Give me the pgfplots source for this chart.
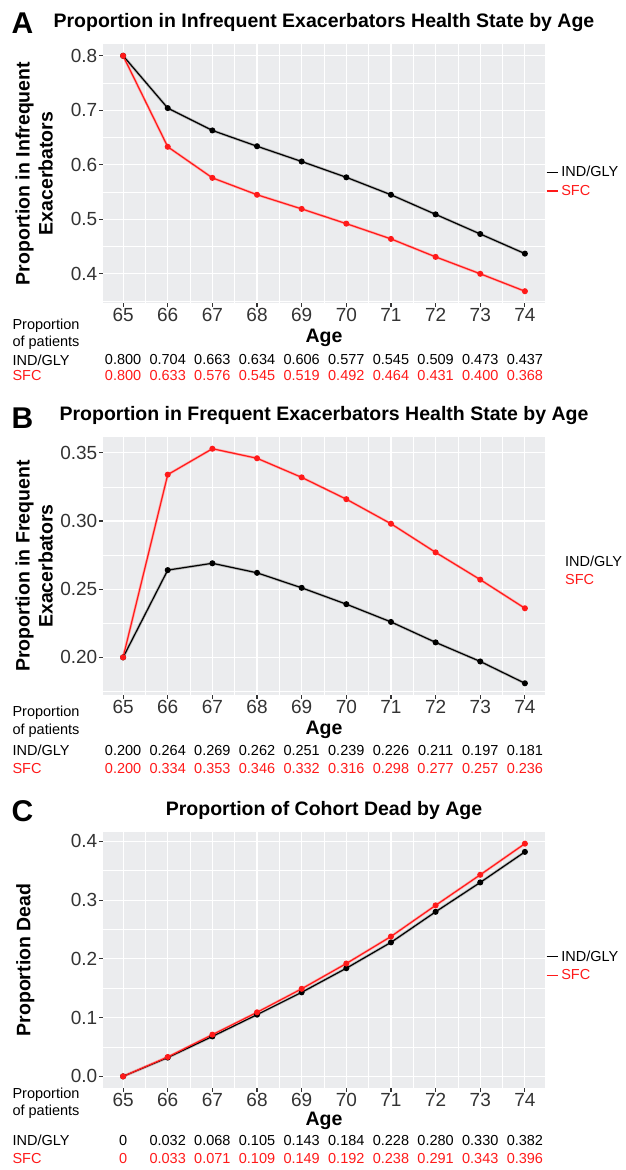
\documentclass[border=0pt]{standalone}
\usepackage{pgfplots}
\usepackage{pgfplotstable}
\pgfplotsset{compat=1.18}
\usepackage{fontspec}
\setmainfont{Liberation Sans}
\definecolor{panelbg}{HTML}{EBECEE}
\definecolor{tickgrey}{HTML}{333333}
\definecolor{ggred}{HTML}{FF1A1A}
\newcommand{\fs}[1]{\fontsize{#1}{#1}\selectfont}

\pgfplotstableread{
age ind sfc
65 0.800 0.800
66 0.704 0.633
67 0.663 0.576
68 0.634 0.545
69 0.606 0.519
70 0.577 0.492
71 0.545 0.464
72 0.509 0.431
73 0.473 0.400
74 0.437 0.368
}\tabA
\pgfplotstableread{
age ind sfc
65 0.200 0.200
66 0.264 0.334
67 0.269 0.353
68 0.262 0.346
69 0.251 0.332
70 0.239 0.316
71 0.226 0.298
72 0.211 0.277
73 0.197 0.257
74 0.181 0.236
}\tabB
\pgfplotstableread{
age ind sfc
65 0 0
66 0.032 0.033
67 0.068 0.071
68 0.105 0.109
69 0.143 0.149
70 0.184 0.192
71 0.228 0.238
72 0.280 0.291
73 0.330 0.343
74 0.382 0.396
}\tabC

\pgfplotsset{
  ggbase/.style={
    scale only axis, width=442pt,
    xmin=64.55, xmax=74.45,
    xtick={65,...,74}, xticklabels={65,66,67,68,69,70,71,72,73,74},
    minor xtick={65.5,66.5,67.5,68.5,69.5,70.5,71.5,72.5,73.5},
    grid=both,
    major grid style={white, line width=1.1pt},
    minor grid style={white, line width=0.55pt},
    axis background/.style={fill=panelbg},
    axis line style={draw=none},
    tick align=outside, tick pos=left,
    major tick length=4pt, minor tick length=0pt,
    major tick style={tickgrey, line width=1.1pt},
    ticklabel style={font=\fs{19}, text=tickgrey},
    xticklabel style={inner sep=1.5pt},
    yticklabel style={inner sep=1.5pt},
    clip=false,
    title style={font=\bfseries\fs{19.5}, anchor=base, at={(0.5,1)}, yshift=11pt},
    xlabel style={font=\bfseries\fs{19.5}, at={(axis description cs:0.5,0)}, anchor=center},
    ylabel style={font=\bfseries\fontsize{19.5}{23}\selectfont, align=center, anchor=center},
    legend style={draw=none, fill=none, font=\fs{14.5}, at={(1,0.5)}, anchor=west, inner sep=0pt, row sep=3pt,
      nodes={inner xsep=3pt}},
    legend cell align=left,
    legend image code/.code={\draw[#1, mark=none, line width=1.1pt] (0pt,0pt) -- (11pt,0pt);},
  },
  indline/.style={black, line width=1.2pt, mark=*, mark size=2.4pt},
  sfcline/.style={ggred, line width=1.2pt, mark=*, mark size=2.4pt},
  shadowind/.style={forget plot, gray!55, line width=2.8pt, mark=none},
  shadowsfc/.style={forget plot, ggred!35, line width=2.6pt, mark=none},
  tabrow/.style 2 args={forget plot, draw=none, mark=none, nodes near coords, point meta=explicit symbolic,
     every node near coord/.style={anchor=center, font=\fs{14.5}, text=#1, yshift=#2}},
}

\begin{document}
\begin{tikzpicture}[x=1pt,y=1pt]
\useasboundingbox (0pt,0pt) rectangle (625pt,-1170pt);

% ---------------- Panel A
\node[font=\bfseries\fs{30}, anchor=base west] at (8pt,-33pt) {A};
\begin{axis}[ggbase, at={(103pt,-44pt)}, anchor=north west, height=259pt,
  ymin=0.3464, ymax=0.8216,
  ytick={0.4,0.5,0.6,0.7,0.8}, yticklabels={0.4,0.5,0.6,0.7,0.8},
  minor ytick={0.35,0.45,0.55,0.65,0.75},
  title={Proportion in Infrequent Exacerbators Health State by Age},
  xlabel={Age}, xlabel style={yshift=-35pt},
  ylabel={Proportion in Infrequent\\Exacerbators},
  ylabel style={at={(axis description cs:-0.156,0.5)}},
  legend style={xshift=1pt, yshift=-8pt}]
\addplot[shadowind] table[x=age,y=ind]{\tabA};
\addplot[shadowsfc] table[x=age,y=sfc]{\tabA};
\addplot[indline] table[x=age,y=ind]{\tabA};
\addlegendentry{IND/GLY}
\addplot[sfcline] table[x=age,y=sfc]{\tabA};
\addlegendentry{\textcolor{ggred}{SFC}}
\addplot[tabrow={black}{-57pt}] table[x=age,y expr=0.3464,meta=ind]{\tabA};
\addplot[tabrow={ggred}{-73pt}] table[x=age,y expr=0.3464,meta=sfc]{\tabA};
\end{axis}
\node[anchor=west, font=\fs{14.5}] at (9pt,-326pt) {Proportion};
\node[anchor=west, font=\fs{14.5}] at (9pt,-343pt) {of patients};
\node[anchor=west, font=\fs{14.5}] at (9pt,-360pt) {IND/GLY};
\node[anchor=west, font=\fs{14.5}, text=ggred] at (9pt,-376pt) {SFC};

% ---------------- Panel B
\node[font=\bfseries\fs{30}, anchor=base west] at (8pt,-428pt) {B};
\begin{axis}[ggbase, at={(103pt,-437pt)}, anchor=north west, height=258pt,
  ymin=0.1724, ymax=0.3616,
  ytick={0.20,0.25,0.30,0.35}, yticklabels={0.20,0.25,0.30,0.35},
  minor ytick={0.175,0.225,0.275,0.325},
  title={Proportion in Frequent Exacerbators Health State by Age},
  xlabel={Age}, xlabel style={yshift=-35pt},
  ylabel={Proportion in Frequent\\Exacerbators},
  ylabel style={at={(axis description cs:-0.156,0.5)}},
  legend image code/.code={},
  legend style={xshift=17pt, yshift=-5pt}]
\addplot[shadowind] table[x=age,y=ind]{\tabB};
\addplot[shadowsfc] table[x=age,y=sfc]{\tabB};
\addplot[indline] table[x=age,y=ind]{\tabB};
\addlegendentry{IND/GLY}
\addplot[sfcline] table[x=age,y=sfc]{\tabB};
\addlegendentry{\textcolor{ggred}{SFC}}
\addplot[tabrow={black}{-55pt}] table[x=age,y expr=0.1724,meta=ind]{\tabB};
\addplot[tabrow={ggred}{-73pt}] table[x=age,y expr=0.1724,meta=sfc]{\tabB};
\end{axis}
\node[anchor=west, font=\fs{14.5}] at (9pt,-713pt) {Proportion};
\node[anchor=west, font=\fs{14.5}] at (9pt,-731pt) {of patients};
\node[anchor=west, font=\fs{14.5}] at (9pt,-750pt) {IND/GLY};
\node[anchor=west, font=\fs{14.5}, text=ggred] at (9pt,-768pt) {SFC};

% ---------------- Panel C
\node[font=\bfseries\fs{30}, anchor=base west] at (8pt,-821pt) {C};
\begin{axis}[ggbase, at={(103pt,-832pt)}, anchor=north west, height=256pt,
  ymin=-0.0198, ymax=0.4158,
  ytick={0,0.1,0.2,0.3,0.4}, yticklabels={0.0,0.1,0.2,0.3,0.4},
  minor ytick={0.05,0.15,0.25,0.35},
  title={Proportion of Cohort Dead by Age},
  xlabel={Age}, xlabel style={yshift=-33pt},
  ylabel={Proportion Dead},
  ylabel style={at={(axis description cs:-0.176,0.5)}},
  legend style={xshift=1pt, yshift=-6pt}]
\addplot[shadowind] table[x=age,y=ind]{\tabC};
\addplot[shadowsfc] table[x=age,y=sfc]{\tabC};
\addplot[indline] table[x=age,y=ind]{\tabC};
\addlegendentry{IND/GLY}
\addplot[sfcline] table[x=age,y=sfc]{\tabC};
\addlegendentry{\textcolor{ggred}{SFC}}
\addplot[tabrow={black}{-52pt}] table[x=age,y expr=-0.0198,meta=ind]{\tabC};
\addplot[tabrow={ggred}{-70pt}] table[x=age,y expr=-0.0198,meta=sfc]{\tabC};
\end{axis}
\node[anchor=west, font=\fs{14.5}] at (9pt,-1095pt) {Proportion};
\node[anchor=west, font=\fs{14.5}] at (9pt,-1112pt) {of patients};
\node[anchor=west, font=\fs{14.5}] at (9pt,-1140pt) {IND/GLY};
\node[anchor=west, font=\fs{14.5}, text=ggred] at (9pt,-1158pt) {SFC};
\end{tikzpicture}
\end{document}
